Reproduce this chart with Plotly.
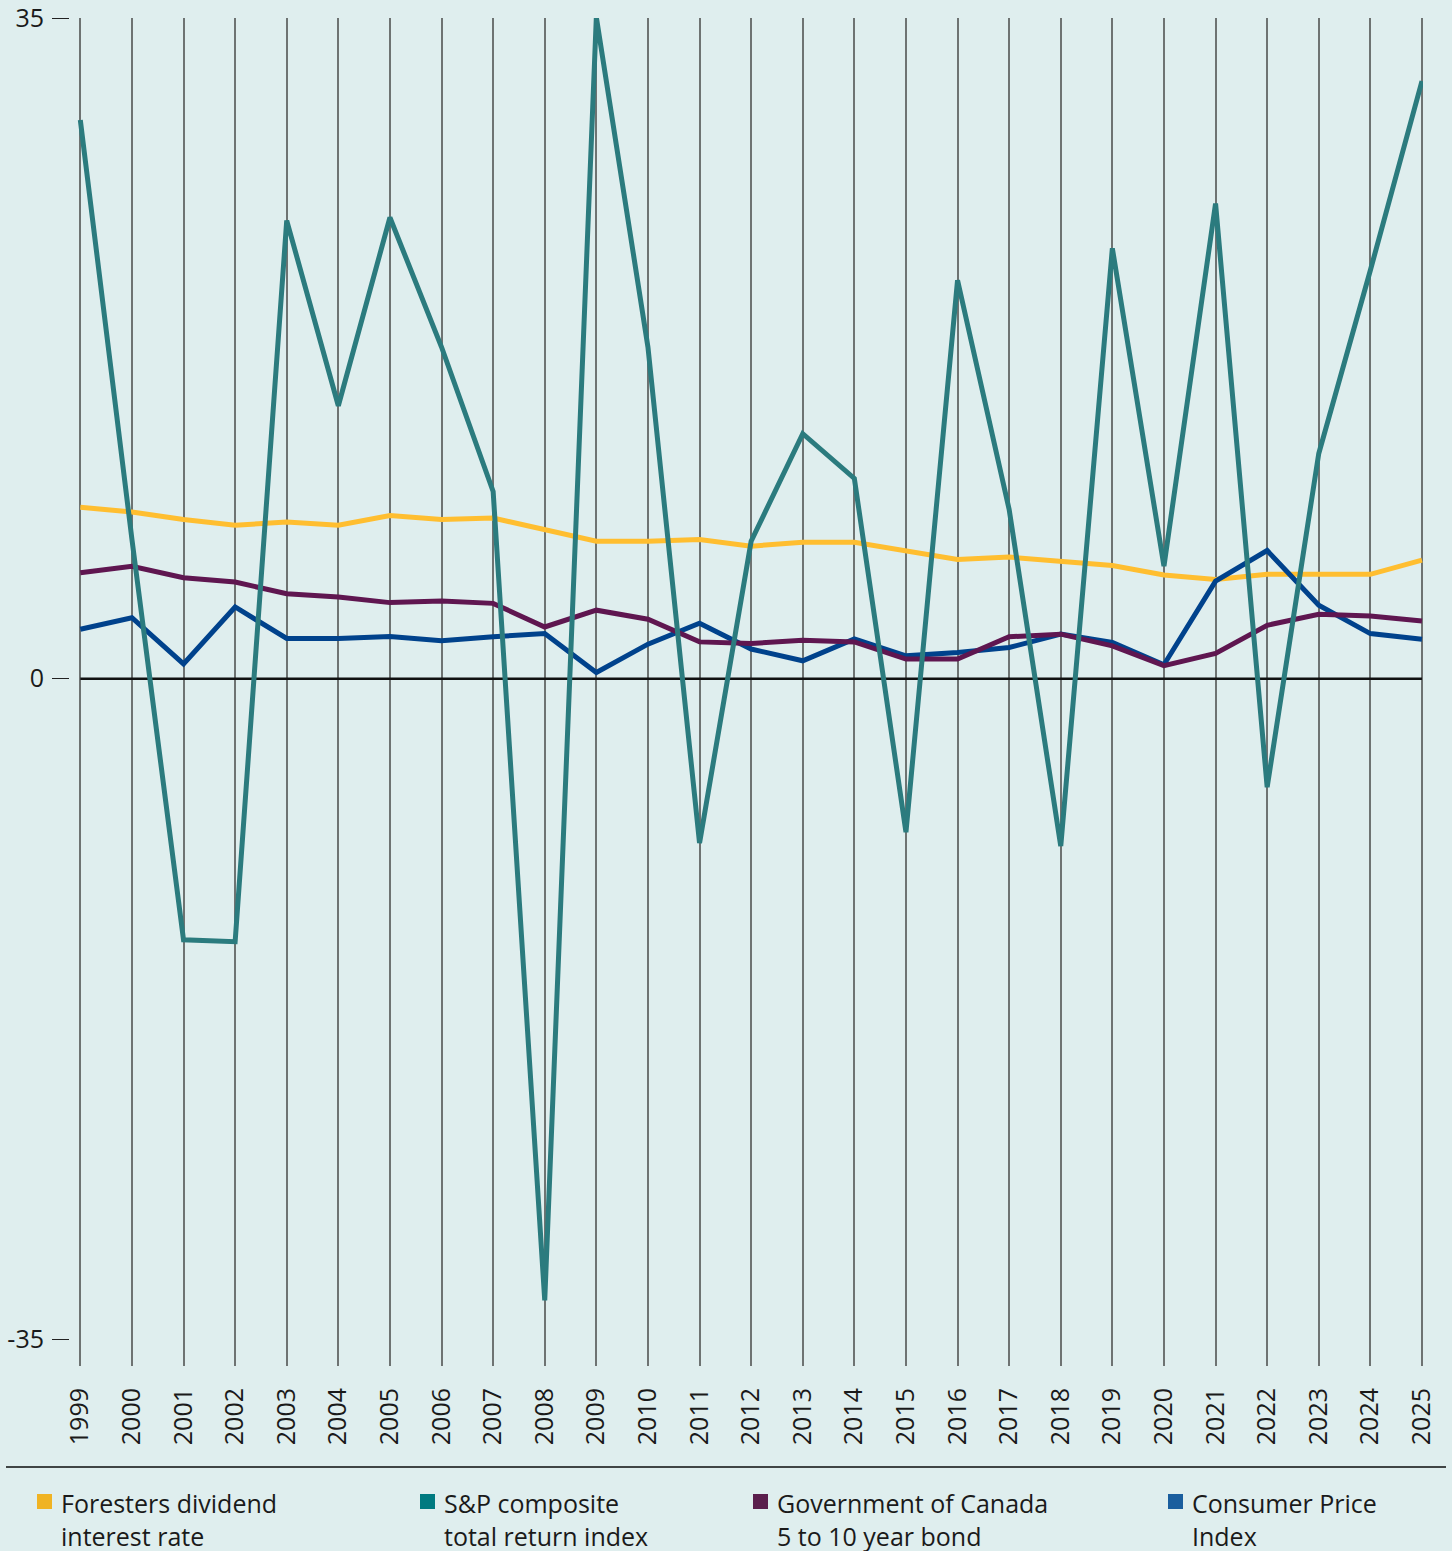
import plotly.graph_objects as go

years = list(range(1999, 2026))

foresters = [9.08, 8.83, 8.43, 8.13, 8.30, 8.13, 8.64, 8.43, 8.51, 7.90,
             7.28, 7.28, 7.37, 7.02, 7.23, 7.23, 6.79, 6.32, 6.44, 6.23,
             6.00, 5.49, 5.26, 5.53, 5.53, 5.53, 6.28]
sp_tsx = [29.6, 7.39, -13.83, -13.93, 24.27, 14.46, 24.43, 17.57, 9.92, -32.93,
          35.04, 17.57, -8.71, 7.28, 12.98, 10.61, -8.13, 21.11, 8.97, -8.87,
          22.80, 5.96, 25.17, -5.75, 11.93, 21.64, 31.66]
gov_bond = [5.61, 5.96, 5.35, 5.12, 4.50, 4.33, 4.03, 4.12, 3.99, 2.74,
            3.63, 3.15, 1.95, 1.86, 2.04, 1.95, 1.04, 1.04, 2.22, 2.36,
            1.74, 0.69, 1.34, 2.83, 3.41, 3.32, 3.06]
cpi = [2.62, 3.23, 0.78, 3.80, 2.13, 2.13, 2.23, 2.01, 2.22, 2.39,
       0.33, 1.83, 2.94, 1.57, 0.95, 2.11, 1.21, 1.39, 1.65, 2.36,
       1.92, 0.74, 5.17, 6.79, 3.89, 2.39, 2.09]

y_ticks = [35, 0, -35]

legend_names = ["Foresters dividend<br>interest rate",
                "S&amp;P composite<br>total return index",
                "Government of Canada<br>5 to 10 year bond",
                "Consumer Price<br>Index"]
legend_colors = ["#F0B323", "#007A80", "#5A1E4C", "#1A5E9E"]

FONT = "Open Sans"
BG = "#DFEEEE"
W, H = 1452, 1551
ML, MR, MT, MB = 70, 29, 18, 185
PW = W - ML - MR
PH = H - MT - MB


def px_x(p):
    return (p - ML) / PW


def px_y(p):
    return (H - MB - p) / PH


fig = go.Figure()

series = [
    (foresters, "#FFBE30", "Foresters dividend interest rate"),
    (cpi, "#00428C", "Consumer Price Index"),
    (gov_bond, "#5F1650", "Government of Canada 5 to 10 year bond"),
    (sp_tsx, "#2B7B7E", "S&P composite total return index"),
]
for vals, col, nm in series:
    fig.add_trace(go.Scatter(x=years, y=vals, mode="lines", name=nm,
                             line=dict(color=col, width=5),
                             showlegend=False, hoverinfo="x+y"))

shapes = [
    dict(type="line", xref="x", yref="y", x0=years[0], x1=years[-1], y0=0, y1=0,
         line=dict(color="#111111", width=2.6), layer="between"),
    dict(type="line", xref="x", yref="paper", x0=years[-1], x1=years[-1], y0=0, y1=1,
         line=dict(color="#111111", width=1.5), layer="between"),
    dict(type="line", xref="paper", yref="paper", x0=px_x(6), x1=px_x(1446),
         y0=px_y(1467), y1=px_y(1467), line=dict(color="#404545", width=2.2)),
]

annotations = []
leg_sq_x = [37, 420, 753, 1168]
leg_tx_x = [62, 445, 778, 1193]
for name, col, sx, tx in zip(legend_names, legend_colors, leg_sq_x, leg_tx_x):
    shapes.append(dict(type="rect", xref="paper", yref="paper",
                       x0=px_x(sx), x1=px_x(sx + 15), y0=px_y(1494), y1=px_y(1509),
                       fillcolor=col, line=dict(width=0)))
    annotations.append(dict(text=name, xref="paper", yref="paper",
                            x=px_x(tx - 3), y=px_y(1484), xanchor="left", yanchor="top",
                            align="left", showarrow=False,
                            font=dict(family=FONT, size=25, color="#1A1A1A")))

fig.update_layout(
    width=W, height=H,
    margin=dict(l=ML, r=MR, t=MT, b=MB, pad=0, autoexpand=False),
    paper_bgcolor=BG, plot_bgcolor=BG,
    font=dict(family=FONT, color="#1A1A1A"),
    shapes=shapes, annotations=annotations,
    showlegend=False,
    xaxis=dict(range=[1998.8, 2025.02], tickmode="array", tickvals=years,
               ticktext=[str(y) for y in years], tickangle=-90,
               showgrid=True, gridcolor="#6E7372", gridwidth=1.5,
               zeroline=False, showline=False, ticks="", automargin=False,
               ticklabelstandoff=16,
               tickfont=dict(family=FONT, size=25, color="#1A1A1A")),
    yaxis=dict(range=[-36.41, 35.0], tickmode="array", tickvals=y_ticks,
               ticktext=[str(v) for v in y_ticks],
               showgrid=False, zeroline=False, showline=False, automargin=False,
               ticks="outside", ticklen=17, tickwidth=1.3, tickcolor="#222222",
               ticklabelstandoff=3, ticklabeloverflow="allow",
               tickfont=dict(family=FONT, size=25, color="#1A1A1A")),
)

fig.write_html("out.html", config={"displayModeBar": False},
               post_script="document.body.style.margin='0';document.body.style.background='#DFEEEE';")
